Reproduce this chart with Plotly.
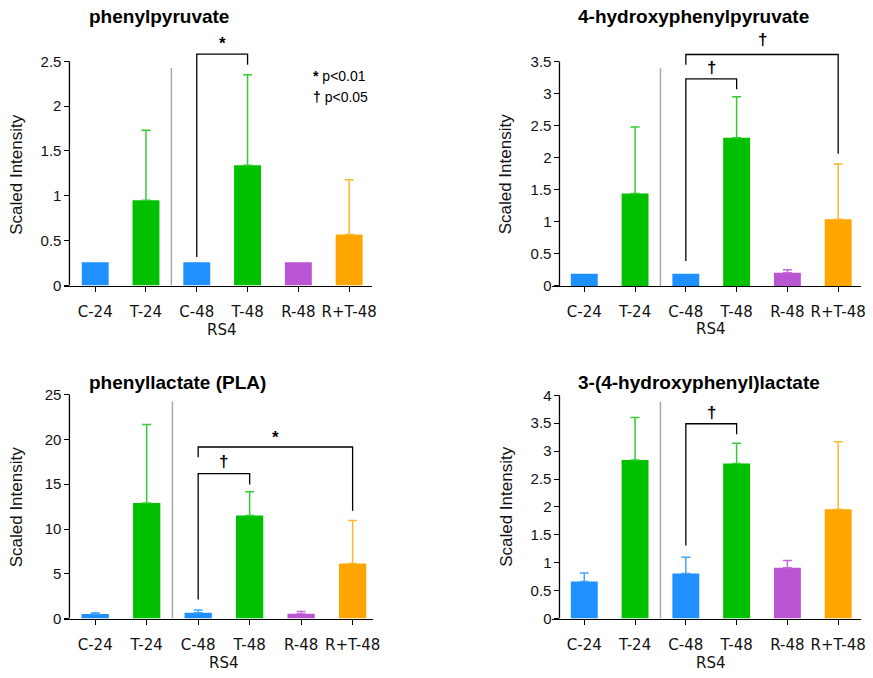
import plotly.graph_objects as go

# ---------------- data ----------------
categories = ["C-24", "T-24", "C-48", "T-48", "R-48", "R+T-48"]
group_label = "RS4"

titles = ["phenylpyruvate", "4-hydroxyphenylpyruvate",
          "phenyllactate (PLA)", "3-(4-hydroxyphenyl)lactate"]

pp_mean = [0.26, 0.95, 0.26, 1.34, 0.26, 0.57]
pp_err = [0.0, 0.78, 0.0, 1.01, 0.0, 0.61]

hpp_mean = [0.19, 1.44, 0.19, 2.31, 0.205, 1.04]
hpp_err = [0.0, 1.04, 0.0, 0.64, 0.045, 0.86]

pla_mean = [0.52, 12.9, 0.66, 11.5, 0.55, 6.14]
pla_err = [0.12, 8.75, 0.30, 2.65, 0.24, 4.81]

hpla_mean = [0.667, 2.84, 0.81, 2.78, 0.91, 1.96]
hpla_err = [0.15, 0.76, 0.29, 0.36, 0.13, 1.21]

pp_ticks = [0, 0.5, 1, 1.5, 2, 2.5]
hpp_ticks = [0, 0.5, 1, 1.5, 2, 2.5, 3, 3.5]
pla_ticks = [0, 5, 10, 15, 20, 25]
hpla_ticks = [0, 0.5, 1, 1.5, 2, 2.5, 3, 3.5, 4]

# significance brackets: (from idx, to idx, left leg bottom, top, right leg bottom, symbol, symbol y)
pp_sig = [(2, 3, 0.32, 2.58, 2.46, "*", 2.73)]
hpp_sig = [(2, 3, 0.39, 3.23, 3.07, "†", 3.41),
           (2, 5, 3.45, 3.61, 2.06, "†", 3.85)]
pla_sig = [(2, 3, 2.13, 16.17, 14.96, "†", 17.56),
           (2, 5, 18.0, 19.15, 12.05, "*", 20.5)]
hpla_sig = [(2, 3, 1.31, 3.49, 3.30, "†", 3.70)]

# ---------------- style ----------------
bar_colors = ["#1E90FF", "#00C000", "#1E90FF", "#00C000", "#BA55D3", "#FFA500"]
err_colors = ["#44A2FF", "#33CC33", "#44A2FF", "#33CC33", "#C46BDD", "#FFB52E"]

W, H = 873, 678
px = lambda v: v / W
py = lambda v: 1 - v / H

# per-panel geometry (pixels)
panels = [
    dict(mean=pp_mean, err=pp_err, ticks=pp_ticks, sig=pp_sig, title=titles[0],
         xdom=(65, 375), yaxis_x=70, y0=289.0, ytop_px=30, ymax_tick=2.5, ytick_px=62.0,
         xr=(-0.605, 5.45), title_xy=(160, 17), ytitle_xy=(17, 176), rs4_y=334),
    dict(mean=hpp_mean, err=hpp_err, ticks=hpp_ticks, sig=hpp_sig, title=titles[1],
         xdom=(556.7, 868), yaxis_x=564, y0=289.3, ytop_px=30, ymax_tick=3.5, ytick_px=62.3,
         xr=(-0.631, 5.45), title_xy=(699, 17), ytitle_xy=(510.5, 176), rs4_y=333),
    dict(mean=pla_mean, err=pla_err, ticks=pla_ticks, sig=pla_sig, title=titles[2],
         xdom=(65, 375.7), yaxis_x=70, y0=626.0, ytop_px=380, ymax_tick=25, ytick_px=399.3,
         xr=(-0.597, 5.39), title_xy=(179, 387), ytitle_xy=(17, 512.5), rs4_y=671),
    dict(mean=hpla_mean, err=hpla_err, ticks=hpla_ticks, sig=hpla_sig, title=titles[3],
         xdom=(556.7, 868), yaxis_x=564, y0=626.0, ytop_px=380, ymax_tick=4, ytick_px=400.0,
         xr=(-0.631, 5.45), title_xy=(705, 387), ytitle_xy=(510.5, 512.5), rs4_y=671),
]

fig = go.Figure()
shapes = []
annotations = []
xs = list(range(len(categories)))

for k, p in enumerate(panels):
    sfx = "" if k == 0 else str(k + 1)
    xref, yref = "x" + sfx, "y" + sfx
    scale = (p["y0"] - p["ytick_px"]) / p["ymax_tick"]
    ymax = (p["y0"] - p["ytop_px"]) / scale

    for i in xs:
        e = p["err"][i]
        fig.add_trace(go.Bar(
            x=[i], y=[p["mean"][i]], width=0.53,
            marker=dict(color=bar_colors[i], line=dict(width=0)),
            error_y=dict(type="data", array=[e], arrayminus=[0], symmetric=False,
                         visible=e > 0, color=err_colors[i], thickness=1.5, width=4.5),
            xaxis=xref, yaxis=yref, showlegend=False, hoverinfo="skip"))

    fig.update_layout(**{
        ("xaxis" + sfx): dict(
            domain=[px(p["xdom"][0]), px(p["xdom"][1])], anchor=yref,
            range=list(p["xr"]), tickmode="array", tickvals=xs, ticktext=categories,
            showline=True, linecolor="black", linewidth=1.3,
            ticks="outside", ticklen=5, tickcolor="black", tickwidth=1.3,
            ticklabelstandoff=7,
            tickfont=dict(family="DejaVu Sans", size=15, color="#111"),
            showgrid=False, zeroline=False, fixedrange=True),
        ("yaxis" + sfx): dict(
            domain=[py(p["y0"]), py(p["ytop_px"])], anchor="free", position=px(p["yaxis_x"]),
            range=[0, ymax], tickmode="array", tickvals=p["ticks"],
            ticktext=[("%g" % t) for t in p["ticks"]],
            showline=False, ticks="outside", ticklen=5, tickcolor="black", tickwidth=1.3,
            tickfont=dict(family="Liberation Sans", size=15, color="#111"),
            showgrid=False, zeroline=False, fixedrange=True),
    })

    # y-axis line only up to the top tick
    shapes.append(dict(type="line", xref="paper", yref=yref,
                       x0=px(p["yaxis_x"]), x1=px(p["yaxis_x"]), y0=0, y1=p["ticks"][-1],
                       line=dict(color="black", width=1.3)))
    # gray divider between 24h and 48h groups
    shapes.append(dict(type="line", xref=xref, yref=yref, x0=1.5, x1=1.5,
                       y0=0, y1=p["ticks"][-1] * 0.97,
                       line=dict(color="#A8A8A8", width=1.5)))
    # significance brackets
    for (a, b, ya, yt, yb, sym, ys) in p["sig"]:
        shapes.append(dict(type="path", xref=xref, yref=yref,
                           path=f"M {a},{ya} L {a},{yt} L {b},{yt} L {b},{yb}",
                           line=dict(color="black", width=1.3)))
        annotations.append(dict(x=(a + b) / 2, y=ys, xref=xref, yref=yref,
                                text="<b>%s</b>" % sym, showarrow=False,
                                xanchor="center", yanchor="middle",
                                yshift=-3 if sym == "*" else 0,
                                font=dict(family="Liberation Sans", size=17, color="black")))

    # title
    annotations.append(dict(x=px(p["title_xy"][0]), y=py(p["title_xy"][1]), xref="paper", yref="paper",
                            text="<b>%s</b>" % p["title"], showarrow=False,
                            xanchor="center", yanchor="middle",
                            font=dict(family="Liberation Sans", size=19, color="black")))
    # y-axis title
    annotations.append(dict(x=px(p["ytitle_xy"][0]), y=py(p["ytitle_xy"][1]), xref="paper", yref="paper",
                            text="Scaled Intensity", textangle=-90, showarrow=False,
                            xanchor="center", yanchor="middle",
                            font=dict(family="Liberation Sans", size=17, color="#111")))
    # group label
    annotations.append(dict(x=2.5, y=py(p["rs4_y"]), xref=xref, yref="paper",
                            text=group_label, showarrow=False,
                            xanchor="center", yanchor="middle",
                            font=dict(family="DejaVu Sans", size=15, color="#111")))

# p-value key in first panel
annotations.append(dict(x=px(314), y=py(77), xref="paper", yref="paper",
                        text="<b>*</b> p&lt;0.01", showarrow=False, xanchor="left", yanchor="middle",
                        font=dict(family="Liberation Sans", size=14, color="black")))
annotations.append(dict(x=px(314), y=py(98), xref="paper", yref="paper",
                        text="<b>†</b> p&lt;0.05", showarrow=False, xanchor="left", yanchor="middle",
                        font=dict(family="Liberation Sans", size=14, color="black")))

fig.update_layout(width=W, height=H, margin=dict(l=0, r=0, t=0, b=0),
                  paper_bgcolor="white", plot_bgcolor="white",
                  shapes=shapes, annotations=annotations, barmode="overlay",
                  showlegend=False)

fig.write_html("out.html", config={"displayModeBar": False})
